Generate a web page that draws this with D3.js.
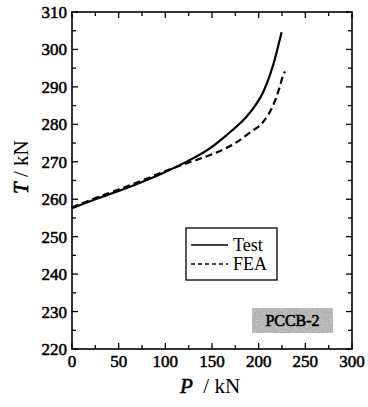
<!DOCTYPE html>
<meta charset="utf-8">
<script src="https://cdn.jsdelivr.net/npm/d3@7"></script>
<style>
body { margin: 0; background: #fff; }
text { font-family: "Liberation Serif", "Times New Roman", serif; }
.tick-label { font-size: 17px; stroke: #000; stroke-width: 0.55px; }
</style>
<div id="chart"></div>
<script>
// data
const testP = [0, 25, 50, 75, 100, 125, 150, 165, 185.4, 194.3, 205, 212.1, 217.5, 222.1, 224.6];
const testT = [257.6, 260.0, 262.2, 264.6, 267.3, 270.3, 274.0, 277.0, 281.6, 284.3, 288.7, 293.2, 297.6, 302.1, 304.6];
const feaP = [0, 25, 50, 75, 100, 125, 150, 175, 191, 205, 215.7, 222.1, 226.4, 228.2];
const feaT = [257.8, 260.3, 262.6, 265.0, 267.5, 269.8, 272.0, 275.0, 277.9, 280.7, 285.2, 289.6, 293.2, 294.1];
const xTicks = [0, 50, 100, 150, 200, 250, 300];
const yTicks = [220, 230, 240, 250, 260, 270, 280, 290, 300, 310];
const seriesNames = ["Test", "FEA"];
const specimen = "PCCB-2";

const width = 368, height = 407;
const margin = {top: 12, right: 16, bottom: 58, left: 72};

const svg = d3.select("#chart").append("svg")
  .attr("width", width)
  .attr("height", height);

const x = d3.scaleLinear().domain([0, 300]).range([margin.left, width - margin.right]);
const y = d3.scaleLinear().domain([220, 310]).range([height - margin.bottom, margin.top]);

// speckled grey for the specimen tag
const defs = svg.append("defs");
const f = defs.append("filter").attr("id", "grain").attr("x", 0).attr("y", 0).attr("width", 1).attr("height", 1);
f.append("feTurbulence").attr("type", "fractalNoise").attr("baseFrequency", 1.2).attr("numOctaves", 2).attr("seed", 3).attr("result", "n");
f.append("feColorMatrix").attr("in", "n").attr("type", "matrix")
  .attr("values", "0 0 0 0 0.4  0 0 0 0 0.4  0 0 0 0 0.4  0 0 0 -3 2.0");
f.append("feComposite").attr("in2", "SourceGraphic").attr("operator", "in").attr("result", "g");
f.append("feFlood").attr("flood-color", "#c4c4c4").attr("result", "bg");
f.append("feMerge").call(m => { m.append("feMergeNode").attr("in", "bg"); m.append("feMergeNode").attr("in", "g"); });

// ticks, inward on all four sides
const minorX = d3.range(0, 301, 25), minorY = d3.range(220, 311, 5);
const tg = svg.append("g").attr("stroke", "#000").attr("stroke-width", 1.3);
minorX.forEach(v => {
  const len = v % 50 === 0 ? 6 : 4;
  tg.append("line").attr("x1", x(v)).attr("x2", x(v)).attr("y1", y(220)).attr("y2", y(220) - len);
  tg.append("line").attr("x1", x(v)).attr("x2", x(v)).attr("y1", y(310)).attr("y2", y(310) + len);
});
minorY.forEach(v => {
  const len = v % 10 === 0 ? 6 : 4;
  tg.append("line").attr("y1", y(v)).attr("y2", y(v)).attr("x1", x(0)).attr("x2", x(0) + len);
  tg.append("line").attr("y1", y(v)).attr("y2", y(v)).attr("x1", x(300)).attr("x2", x(300) - len);
});

// frame
svg.append("rect")
  .attr("x", x(0)).attr("y", y(310))
  .attr("width", x(300) - x(0)).attr("height", y(220) - y(310))
  .attr("fill", "none").attr("stroke", "#000").attr("stroke-width", 1.6);

// tick labels
svg.append("g").selectAll("text").data(xTicks).join("text")
  .attr("class", "tick-label")
  .attr("x", d => x(d)).attr("y", y(220) + 18)
  .attr("text-anchor", "middle")
  .text(d => d);
svg.append("g").selectAll("text").data(yTicks).join("text")
  .attr("class", "tick-label")
  .attr("x", x(0) - 5).attr("y", d => y(d) + 6)
  .attr("text-anchor", "end")
  .text(d => d);

// axis titles
const xt = svg.append("text")
  .attr("x", 180).attr("y", 393)
  .attr("font-size", 21);
xt.append("tspan").attr("font-style", "italic").attr("stroke", "#000").attr("stroke-width", 0.6).text("P");
xt.append("tspan").text("\u00a0\u00a0/ kN");

const yt = svg.append("text")
  .attr("transform", "translate(28,194) rotate(-90)")
  .attr("font-size", 21);
yt.append("tspan").attr("font-style", "italic").attr("stroke", "#000").attr("stroke-width", 0.6).text("T");
yt.append("tspan").text(" / kN");

// curves
const line = d3.line().x(d => x(d[0])).y(d => y(d[1])).curve(d3.curveMonotoneX);
svg.append("path")
  .datum(testP.map((p, i) => [p, testT[i]]))
  .attr("d", line)
  .attr("fill", "none").attr("stroke", "#000").attr("stroke-width", 2.2);
svg.append("path")
  .datum(feaP.map((p, i) => [p, feaT[i]]))
  .attr("d", line)
  .attr("fill", "none").attr("stroke", "#000").attr("stroke-width", 2.2)
  .attr("stroke-dasharray", "7,4");

// legend
const lg = svg.append("g").attr("transform", "translate(186,228)");
lg.append("rect").attr("width", 91).attr("height", 52)
  .attr("fill", "#fff").attr("stroke", "#000").attr("stroke-width", 1.3);
seriesNames.forEach((name, i) => {
  const ly = 17 + i * 19;
  lg.append("line").attr("x1", 5).attr("x2", 42).attr("y1", ly).attr("y2", ly)
    .attr("stroke", "#000").attr("stroke-width", 1.6)
    .attr("stroke-dasharray", i === 1 ? "4,3" : null);
  lg.append("text").attr("x", 47).attr("y", ly + 6)
    .attr("font-size", 18).text(name);
});

// specimen tag
svg.append("rect").attr("x", 252).attr("y", 308).attr("width", 81).attr("height", 25)
  .attr("fill", "#c0c0c0").attr("filter", "url(#grain)");
svg.append("text").attr("x", 292.5).attr("y", 326)
  .attr("text-anchor", "middle")
  .attr("font-size", 16).attr("stroke", "#000").attr("stroke-width", 0.6)
  .text(specimen);
</script>
